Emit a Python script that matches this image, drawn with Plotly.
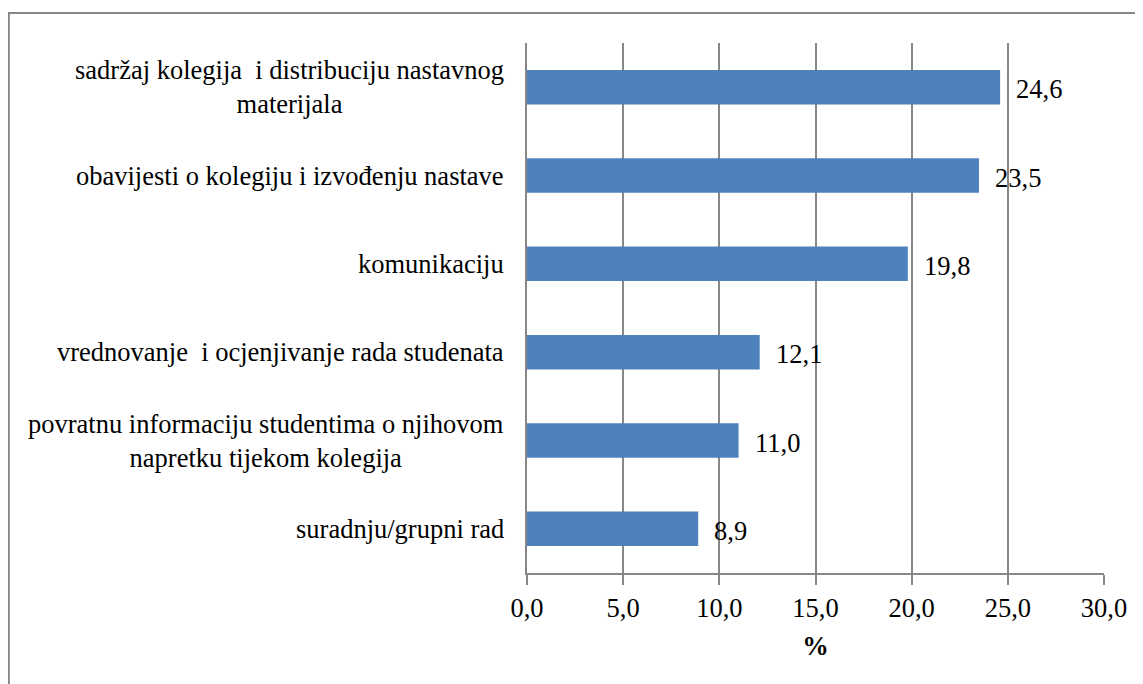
import plotly.graph_objs as go

categories = [
    "sadržaj kolegija\u00a0 i distribuciju nastavnog<br>materijala",
    "obavijesti o kolegiju i izvođenju nastave",
    "komunikaciju",
    "vrednovanje\u00a0 i ocjenjivanje rada studenata",
    "povratnu informaciju studentima o njihovom<br>napretku tijekom kolegija",
    "suradnju/grupni rad",
]
values = [24.6, 23.5, 19.8, 12.1, 11.0, 8.9]
x_ticks = [0, 5, 10, 15, 20, 25, 30]

FONT = "'Liberation Serif', 'Times New Roman', serif"
FS = 26.5
GRID = "#878787"

fig = go.Figure()
fig.add_trace(go.Bar(
    x=values, y=categories, orientation="h",
    marker=dict(color="#4F81BD", line=dict(width=0)),
    width=0.39,
))

# value labels right of the bars
for c, v in zip(categories, values):
    fig.add_annotation(x=v, y=c, text=f"{v:.1f}".replace(".", ","),
                       showarrow=False, xanchor="left", xshift=14, yshift=-2,
                       font=dict(family=FONT, size=FS, color="black"))

# category labels, centred lines like the original
for c in categories:
    fig.add_annotation(x=0, xref="paper", y=c, text=c, showarrow=False,
                       xanchor="right", align="center", xshift=-21,
                       font=dict(family=FONT, size=FS, color="black"))

# outer chart border
fig.add_shape(type="rect", xref="paper", yref="paper",
              x0=-0.898, x1=1.2, y0=-0.4, y1=1.0566,
              line=dict(color=GRID, width=2), layer="below")

# page body has an 8px margin, so margins are shifted by 8px
fig.update_layout(
    width=1143, height=684,
    margin=dict(l=519, r=47, t=35, b=119),
    paper_bgcolor="white", plot_bgcolor="white",
    separators=", ",
    showlegend=False,
    font=dict(family=FONT, size=FS, color="black"),
    xaxis=dict(
        range=[0, 30], tickvals=x_ticks, tickformat=".1f",
        showgrid=True, gridcolor=GRID, gridwidth=1.5,
        showline=True, linecolor=GRID, linewidth=2,
        ticks="outside", ticklen=10, tickcolor=GRID, tickwidth=1.5,
        zeroline=False,
        title=dict(text="<b>%</b>", font=dict(family=FONT, size=FS), standoff=15),
        tickfont=dict(family=FONT, size=FS),
    ),
    yaxis=dict(
        autorange="reversed", showticklabels=False,
        showline=True, linecolor=GRID, linewidth=2,
        showgrid=False, ticks="", zeroline=False,
    ),
)

fig.write_html("out.html")
